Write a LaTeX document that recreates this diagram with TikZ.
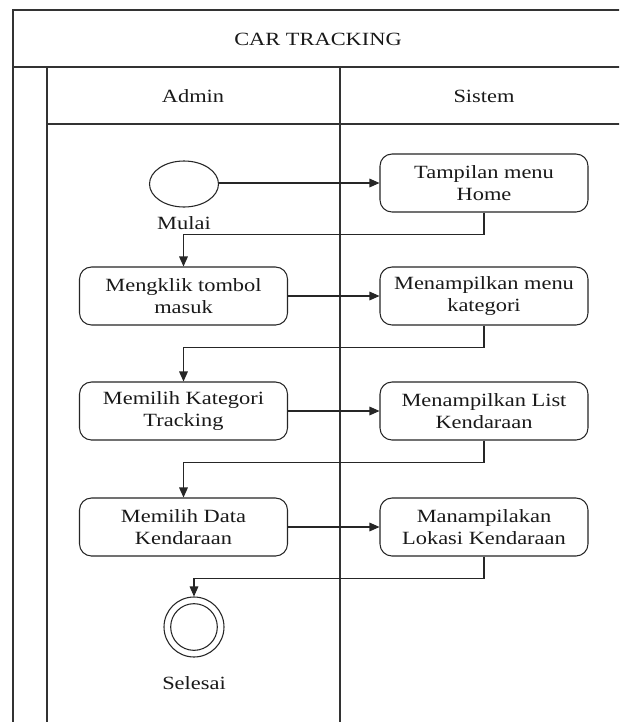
\documentclass[tikz,border=0pt]{standalone}
\usepackage{fontspec}
\setmainfont{Liberation Serif}[FakeStretch=1.2]
\usetikzlibrary{shapes.geometric,arrows.meta}
\begin{document}
\begin{tikzpicture}[x=0.75pt,y=-0.75pt,
  every node/.style={font=\fontsize{14}{17}\selectfont, text=black!90},
  frameline/.style={draw=black!80, line width=1.1pt},
  activity/.style={draw=black!85, line width=0.8pt, rounded corners=9pt,
    minimum width=156pt, minimum height=43.5pt, align=center, inner sep=2pt},
  startnode/.style={draw=black!85, line width=0.8pt, ellipse, inner sep=0pt,
    minimum width=51.75pt, minimum height=34.5pt},
  flow/.style={draw=black!85, line width=0.8pt, -{Triangle[length=7.5pt,width=6.5pt]}},
  lbl/.style={inner sep=0pt}
]
\useasboundingbox (0,0) rectangle (619,722);
\fill[white] (0,0) rectangle (619,722);

% swimlane frame, running off the page at right and bottom
\begin{scope}
  \clip (0,0) rectangle (619,722);
  \draw[frameline] (640,10) -- (13,10) -- (13,740);
  \draw[frameline] (13,67) -- (640,67);
  \draw[frameline] (47,67) -- (47,740);
  \draw[frameline] (47,124) -- (640,124);
  \draw[frameline] (340,67) -- (340,740);
\end{scope}

\node[lbl] (title) at (318,39) {CAR TRACKING};
\node[lbl] (admin) at (193,96) {Admin};
\node[lbl] (sistem) at (484,96) {Sistem};

% activities
\node[startnode] (start) at (184,184) {};
\node[lbl] (mulai) at (184,223) {Mulai};

\node[activity] (home) at (484,183) {Tampilan menu\\Home};
\node[activity] (klik) at (183.5,296) {Mengklik tombol\\masuk};
\node[activity] (kat) at (484,296) {Menampilkan menu\\kategori};
\node[activity] (pilkat) at (183.5,411) {Memilih Kategori\\Tracking};
\node[activity] (list) at (484,411) {Menampilkan List\\Kendaraan};
\node[activity] (pildata) at (183.5,527) {Memilih Data\\Kendaraan};
\node[activity] (lokasi) at (484,527) {Manampilakan\\Lokasi Kendaraan};

\node[circle, draw=black!85, line width=0.8pt, minimum size=45pt, inner sep=0pt] (fin) at (194,627) {};
\node[circle, draw=black!85, line width=0.8pt, minimum size=35pt, inner sep=0pt] (finin) at (fin.center) {};
\node[lbl] (selesai) at (194,683) {Selesai};

% control flow
\draw[flow] (start.east |- home.west) -- (home.west);
\draw[flow] (home.south) -- ++(0,22) -| (klik.north);
\draw[flow] (klik.east) -- (kat.west);
\draw[flow] (kat.south) -- ++(0,22) -| (pilkat.north);
\draw[flow] (pilkat.east) -- (list.west);
\draw[flow] (list.south) -- ++(0,22) -| (pildata.north);
\draw[flow] (pildata.east) -- (lokasi.west);
\draw[flow] (lokasi.south) -- ++(0,22) -| (fin.north);
\end{tikzpicture}
\end{document}
